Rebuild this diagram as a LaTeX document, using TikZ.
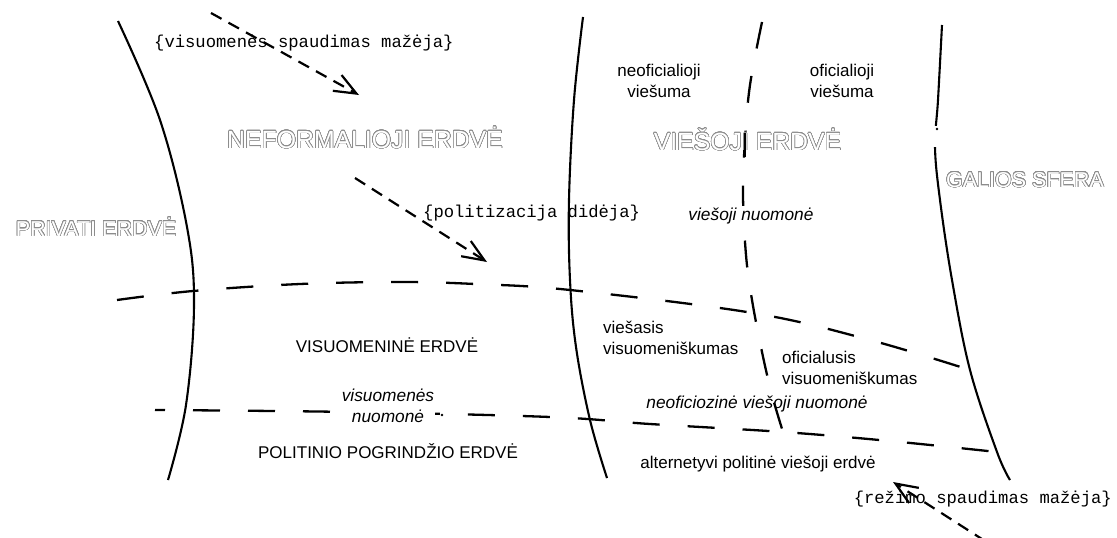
\documentclass[tikz,border=0pt]{standalone}
\usepackage{fontspec}
\setmainfont{Liberation Sans}
\setmonofont{Liberation Mono}
\usepackage[copies]{contour}
\contourlength{0.55pt}
\contournumber{32}
\usetikzlibrary{arrows.meta}
\newcommand{\outl}[1]{\contour{black!45}{\textcolor{white}{#1}}}
\begin{document}
\begin{tikzpicture}[x=1pt,y=-1pt,
  bound/.style={line width=2.1pt},
  zone/.style={line width=2.3pt, dash pattern=on 27pt off 28pt},
  push/.style={line width=2.2pt, dash pattern=on 12pt off 8pt,
    -{Straight Barb[length=22pt,width=18pt,line width=2.2pt]}},
  small/.style={font=\fontsize{17}{21.5}\selectfont, inner sep=0pt},
  ital/.style={font=\fontsize{17.3}{21.5}\selectfont\itshape, inner sep=0pt},
  mono/.style={font=\fontsize{17.2}{21}\selectfont\ttfamily, inner sep=0pt},
  bigA/.style={font=\fontsize{24.8}{28}\selectfont, inner sep=0pt},
  bigB/.style={font=\fontsize{21.5}{26}\selectfont, inner sep=0pt},
  mask/.style={fill=white, inner sep=1pt}
]
\useasboundingbox (0,0) rectangle (1117,538);

% solid boundaries
\draw[bound] plot[smooth, tension=0.6] coordinates {(118,21) (160,120) (187,227) (194,305) (186,405) (168,480)};
\draw[bound] plot[smooth, tension=0.6] coordinates {(583,17) (574,100) (569,200) (570,280) (576,347) (590,420) (607,478)};
\begin{scope}
  \clip (900,0) rectangle (1000,125);
  \draw[bound] plot[smooth, tension=0.6] coordinates {(942,25) (938,100) (935,147) (940,200) (952,280) (970,370) (997,452) (1010,480)};
\end{scope}
\begin{scope}
  \clip (900,147) rectangle (1117,538);
  \draw[bound] plot[smooth, tension=0.6] coordinates {(942,25) (938,100) (935,147) (940,200) (952,280) (970,370) (997,452) (1010,480)};
\end{scope}
\coordinate (gapdot) at (937,129);
\fill (gapdot) circle (1.3pt);

% dashed zone lines
\draw[zone] plot[smooth, tension=0.6] coordinates {(117,300) (193,291) (300,284) (400,282) (475,284) (570,290) (753,313) (870,340) (970,370)};
\draw[zone, dash phase=17pt] plot[smooth, tension=0.6] coordinates {(155,410) (350,412) (550,417) (650,424) (783,432) (890,441) (997,452)};
\draw[zone] plot[smooth, tension=0.6] coordinates {(762,22) (750,85) (745,140) (743,195) (746,255) (752,300) (762,352) (772,395) (783,432)};

% labels
\node[bigA] (nef) at (365,138) {\outl{NEFORMALIOJI ERDVĖ}};
\node[bigB] (priv) at (96,227) {\outl{PRIVATI ERDVĖ}};
\node[bigA] (vies) at (747.5,140) {\outl{VIEŠOJI ERDVĖ}};
\node[bigB] (gal) at (1025,180) {\outl{GALIOS SFERA}};
\draw[line width=2.3pt] (745,133) -- (745,157);

\node[small, align=center] (neof) at (659,81) {neoficialioji\\viešuma};
\node[small, align=center] (ofic) at (842,81) {oficialioji\\viešuma};
\node[ital, mask, anchor=base] (vnuo) at (751,220) {viešoji nuomonė};
\node[small, anchor=base] (visE) at (387,352) {VISUOMENINĖ ERDVĖ};
\node[small, align=left, anchor=west] (vsk) at (603,338) {viešasis\\visuomeniškumas};
\node[small, align=left, anchor=west] (ofv) at (782,368) {oficialusis\\visuomeniškumas};
\node[ital, mask, align=center] (visnuo) at (388,406) {visuomenės\\nuomonė};
\fill (442,415) circle (1.4pt);
\node[ital, anchor=base] (neofnuo) at (757,408) {neoficiozinė viešoji nuomonė};
\node[small, anchor=base] (polit) at (388,458) {POLITINIO POGRINDŽIO ERDVĖ};
\node[small, anchor=base] (alt) at (758,468) {alternetyvi politinė viešoji erdvė};

\node[mono, anchor=base west] (lab1) at (154,47) {\{visuomenės spaudimas mažėja\}};
\node[mono, anchor=base west] (lab2) at (423,217) {\{politizacija didėja\}};
\node[mono, anchor=base east] (lab3) at (1112,503) {\{režimo spaudimas mažėja\}};

% pressure arrows
\coordinate (a1s) at (211,13);
\coordinate (a1e) at (359,95);
\coordinate (a2s) at (355,178);
\coordinate (a2e) at (487,262);
\coordinate (a3s) at (985,541);
\coordinate (a3e) at (893,482);
\draw[push] (a1s) -- (a1e);
\draw[push] (a2s) -- (a2e);
\draw[push] (a3s) -- (a3e);
\end{tikzpicture}
\end{document}
